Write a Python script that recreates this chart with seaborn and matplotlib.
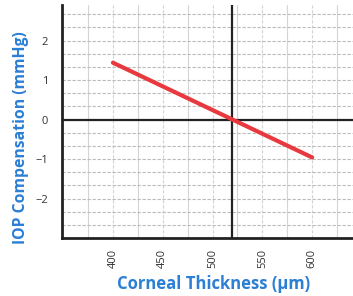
import matplotlib
matplotlib.use("Agg")
import matplotlib.pyplot as plt
import seaborn as sns
import numpy as np
import pandas as pd

# data
thickness = [400, 600]
compensation = [1.44, -0.96]
x_ticks = [400, 450, 500, 550, 600]
y_ticks = [-2, -1, 0, 1, 2]

BLUE = "#2b7fd4"

sns.set_style("white")
plt.rcParams['font.family'] = ['Open Sans', 'DejaVu Sans']

df = pd.DataFrame({"thickness": thickness, "compensation": compensation})

fig = plt.figure(figsize=(3.53, 2.96), dpi=100)
ax = fig.add_axes([0.176, 0.196, 0.824, 0.787])

# grid: light vertical lines every 25 um, dashed horizontal every 1/3 mmHg
for xv in np.arange(375, 650, 25):
    ax.axvline(xv, color="#d4d4d4", lw=0.8, ls="-" if xv % 50 else (0, (3, 1.5)), zorder=0)
for yv in np.arange(-3, 3, 1 / 3):
    ax.axhline(yv, color="#bbbbbb", lw=0.8, ls=(0, (3, 1.5)), zorder=0)

ax.axhline(0, color="#222222", lw=1.6, zorder=2)
ax.axvline(520, color="#222222", lw=1.6, zorder=2)

sns.lineplot(data=df, x="thickness", y="compensation", color="#e8393f",
             lw=3, ax=ax, zorder=3)

ax.set_xlim(349, 641)
ax.set_ylim(-3.0, 2.9)
ax.set_xticks(x_ticks)
ax.set_yticks(y_ticks)
ax.tick_params(axis="x", rotation=90, labelsize=8, colors="#333333", length=0, pad=8)
ax.tick_params(axis="y", labelsize=8, colors="#333333", length=0, pad=10)

for side in ["top", "right"]:
    ax.spines[side].set_visible(False)
for side in ["left", "bottom"]:
    ax.spines[side].set_color("#222222")
    ax.spines[side].set_linewidth(2)

ax.set_xlabel("Corneal Thickness (\u03bcm)", color=BLUE, fontsize=12,
              fontweight="bold")
ax.set_ylabel("IOP Compensation (mmHg)", color=BLUE, fontsize=11.3,
              fontweight="bold")
ax.xaxis.set_label_coords(0.52, -0.158)
ax.yaxis.set_label_coords(-0.113, 0.43)

plt.savefig("out.png", dpi=100)
